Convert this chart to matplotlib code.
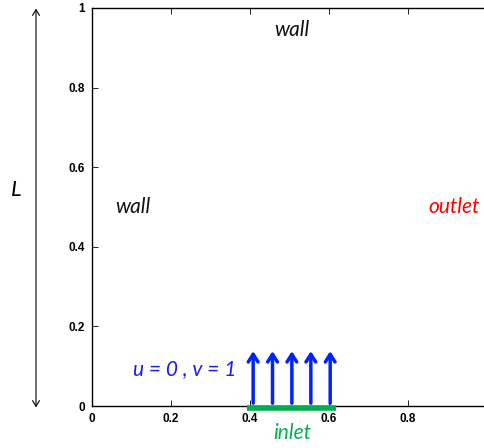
import matplotlib
matplotlib.use("Agg")
import matplotlib.pyplot as plt

arrow_x = [0.408, 0.457, 0.506, 0.554, 0.603]
arrow_len = [0.145, 0.145, 0.145, 0.145, 0.145]
inlet_span = [0.392, 0.618]
xticks = [0, 0.2, 0.4, 0.6, 0.8]
xtick_labels = ["0", "0.2", "0.4", "0.6", "0.8"]
yticks = [0, 0.2, 0.4, 0.6, 0.8, 1]
ytick_labels = ["0", "0.2", "0.4", "0.6", "0.8", "1"]

fig = plt.figure(figsize=(4.85, 4.48), dpi=100)
ax = fig.add_axes([92/485, 42/448, 395/485, 398/448])
ax.set_xlim(0, 1)
ax.set_ylim(0, 1)
lf = dict(fontfamily="Liberation Sans", fontweight="bold", fontsize=8.5)
ax.set_xticks(xticks)
ax.set_xticklabels(xtick_labels, **lf)
ax.set_yticks(yticks)
ax.set_yticklabels(ytick_labels, **lf)
ax.tick_params(direction="in", length=4, width=0.6, top=True, right=False, pad=5)
for s in ax.spines.values():
    s.set_linewidth(1.0)

# inlet line
ax.plot(inlet_span, [-0.004, -0.004], color="#00b050", lw=4, solid_capstyle="butt", clip_on=False, zorder=3)
# arrows
for x, l in zip(arrow_x, arrow_len):
    ax.annotate("", xy=(x, l), xytext=(x, 0),
                arrowprops=dict(arrowstyle="->,head_length=0.55,head_width=0.35", color="#0022ff", lw=2.5),
                annotation_clip=False)

tf = dict(family="Lato", style="italic", fontsize=15)
ax.text(0.507, 0.945, "wall", color="#111111", ha="center", va="center", **tf)
ax.text(0.104, 0.5, "wall", color="#111111", ha="center", va="center", **tf)
ax.text(0.917, 0.5, "outlet", color="#ff0000", ha="center", va="center", **tf)
ax.text(0.235, 0.093, "u = 0 , v = 1", color="#1a1aff", ha="center", va="center", **tf)
ax.text(0.507, -0.068, "inlet", color="#00b050", ha="center", va="center", clip_on=False, **tf)

# L double arrow in figure coordinates
fig.patches.append(matplotlib.patches.FancyArrowPatch(
    (36/485, 1 - 6/448), (36/485, 1 - 410/448), transform=fig.transFigure,
    arrowstyle="<->,head_length=4,head_width=2.5", color="black", lw=0.8))
fig.text(16/485, 1 - 190/448, "L", ha="center", va="center", family="Lato", style="italic", fontsize=16)

fig.savefig("out.png", dpi=100)
